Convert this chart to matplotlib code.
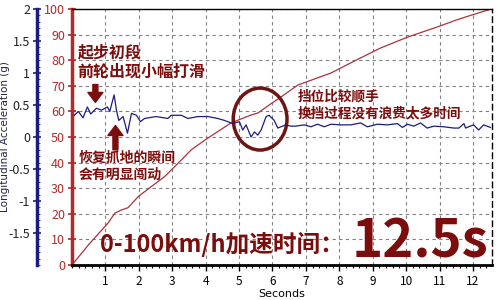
import matplotlib
matplotlib.use('Agg')
import matplotlib.pyplot as plt
from matplotlib.patches import Ellipse
from matplotlib.ticker import MultipleLocator

plt.rcParams['font.family'] = ['Noto Sans CJK SC', 'DejaVu Sans']

# speed (km/h) vs time (s)
speed_t = [0, 0.5, 1.08, 1.28, 1.48, 1.68, 1.98, 2.37, 2.77, 3.27, 3.57, 4.0, 4.76,
           5.36, 5.57, 5.9, 6.25, 6.76, 7.75, 8.5, 9.24, 10.04, 11.0, 11.5, 12.0, 12.55]
speed_v = [0, 8, 16.4, 20.2, 21.5, 22.4, 26.7, 30.6, 34.5, 41, 45, 49, 55.5,
           58.6, 59.4, 62.5, 65.6, 70.3, 75, 80, 84.8, 89, 93.3, 95.7, 97.8, 100]

# longitudinal acceleration (g) vs time (s)
acc_t = [0.07, 0.19, 0.33, 0.46, 0.56, 0.73, 0.88, 1.06, 1.13, 1.26, 1.33, 1.40, 1.53,
         1.66, 1.78, 1.93, 2.05, 2.17, 2.52, 2.87, 2.97, 3.27, 3.47, 3.77, 4.07, 4.36,
         4.56, 4.81, 5.01, 5.11, 5.21, 5.36, 5.46, 5.56, 5.66, 5.81, 5.90, 6.05, 6.16,
         6.25, 6.40, 6.55, 6.70, 6.95, 7.15, 7.35, 7.55, 7.75, 8.04, 8.34, 8.64, 8.84,
         9.14, 9.44, 9.74, 9.89, 10.04, 10.23, 10.43, 10.63, 10.83, 11.13, 11.43, 11.58,
         11.73, 11.78, 11.87, 12.02, 12.17, 12.32, 12.52]
acc_g = [0.34, 0.40, 0.30, 0.47, 0.36, 0.45, 0.42, 0.47, 0.40, 0.66, 0.42, 0.26, 0.32,
         0.06, 0.37, 0.34, 0.24, 0.29, 0.32, 0.29, 0.34, 0.34, 0.29, 0.32, 0.32, 0.29,
         0.26, 0.21, 0.24, 0.11, 0.19, 0.00, 0.08, 0.03, 0.11, 0.32, 0.34, 0.26, 0.14,
         0.16, 0.19, 0.17, 0.17, 0.19, 0.16, 0.20, 0.16, 0.20, 0.19, 0.19, 0.22, 0.16,
         0.20, 0.19, 0.21, 0.15, 0.20, 0.17, 0.22, 0.14, 0.17, 0.16, 0.14, 0.14,
         0.21, 0.14, 0.16, 0.19, 0.11, 0.19, 0.15]

speed_ticks = list(range(0, 101, 10))
acc_ticks = [-1.5, -1, -0.5, 0, 0.5, 1, 1.5, 2]
acc_labels = ['-1.5', '-1', '-0.5', '0', '0.5', '1', '1.5', '2']
sec_ticks = list(range(1, 13))

dark = '#7c0d0d'
red_ax = '#b22a2a'
navy = '#1c1c80'

fig = plt.figure(figsize=(5, 3), dpi=100)
ax = fig.add_axes([0.144, 0.1167, 0.84, 0.8533])
ax2 = ax.twinx()

ax.plot(speed_t, speed_v, color='#b0303c', lw=0.9)
ax.set_xlim(0, 12.57)
ax.set_ylim(0, 100)
ax.set_yticks(speed_ticks)
ax.set_xticks(sec_ticks)
ax.xaxis.set_minor_locator(MultipleLocator(0.2))
ax.grid(True, color='#808080', ls=(0, (3, 3)), lw=0.8)
ax.tick_params(axis='y', colors=red_ax, direction='inout', length=6, width=1.2,
               labelsize=9, pad=2)
ax.tick_params(axis='x', direction='out', length=4, width=1, labelsize=8.5, pad=3)
ax.tick_params(axis='x', which='minor', direction='out', length=2, width=0.8)
ax.spines['left'].set_color(red_ax)
ax.spines['left'].set_linewidth(2.5)
ax.spines['bottom'].set_linewidth(2)
ax.spines['top'].set_linewidth(1)
ax.spines['right'].set_linestyle((0, (4, 3)))
ax.spines['right'].set_linewidth(1)
ax.set_xlabel('Seconds', fontsize=8, labelpad=1, family='DejaVu Sans')

# acceleration axis on the far left
ax2.plot(acc_t, acc_g, color=navy, lw=0.9)
ax2.set_ylim(-2, 2.001)
ax2.yaxis.tick_left()
ax2.yaxis.set_label_position('left')
ax2.spines['left'].set_position(('outward', 25.2))
ax2.spines['left'].set_color(navy)
ax2.spines['left'].set_linewidth(2.5)
for s in ['top', 'right', 'bottom']:
    ax2.spines[s].set_visible(False)
ax2.set_yticks(acc_ticks)
ax2.set_yticklabels(acc_labels)
ax2.yaxis.set_minor_locator(MultipleLocator(0.1))
ax2.tick_params(axis='y', direction='inout', length=6, width=1.2, color=navy,
                labelcolor='#222222', labelsize=9, pad=2)
ax2.tick_params(axis='y', which='minor', direction='in', length=2, color=navy)
ax2.set_ylabel('Longitudinal Acceleration (g)', fontsize=7.5, color='#222244',
               family='DejaVu Sans')
ax2.yaxis.set_label_coords(-0.148, 0.5)

# annotations (on the top axes, drawn in speed coordinates)
ax2.text(0.16, 79.3, '起步初段\n前轮出现小幅打滑', transform=ax.transData, color=dark,
         fontsize=11.5, fontweight='bold', va='center', ha='left', linespacing=1.25)
ax2.text(0.19, 38.5, '恢复抓地的瞬间\n会有明显闯动', transform=ax.transData, color=dark,
         fontsize=10, fontweight='bold', va='center', ha='left', linespacing=1.3)
ax2.text(6.76, 62.5, '挡位比较顺手\n换挡过程没有浪费太多时间', transform=ax.transData,
         color=dark, fontsize=9.8, fontweight='bold', va='center', ha='left',
         linespacing=1.2)

arrow = dict(arrowstyle='simple,head_width=0.9,head_length=0.6,tail_width=0.3',
             color=dark, mutation_scale=12, shrinkA=0, shrinkB=0)
ax2.annotate('', xy=(0.70, 63.5), xytext=(0.70, 70.5), xycoords=ax.transData,
             textcoords=ax.transData, arrowprops=arrow)
ax2.annotate('', xy=(1.30, 54.5), xytext=(1.30, 45), xycoords=ax.transData,
             textcoords=ax.transData, arrowprops=arrow)

ell = Ellipse((5.63, 57), 1.61, 24.2, transform=ax.transData, fill=False,
              edgecolor='#6b1515', lw=2.5)
ax2.add_patch(ell)

fig.text(0.2, 0.16, '0-100km/h加速时间：', color=dark, fontsize=17,
         fontweight='bold', va='baseline', ha='left')
fig.text(0.704, 0.143, '12.5s', color=dark, fontsize=38, fontweight='bold',
         va='baseline', ha='left')

fig.savefig('out.png', dpi=100)
